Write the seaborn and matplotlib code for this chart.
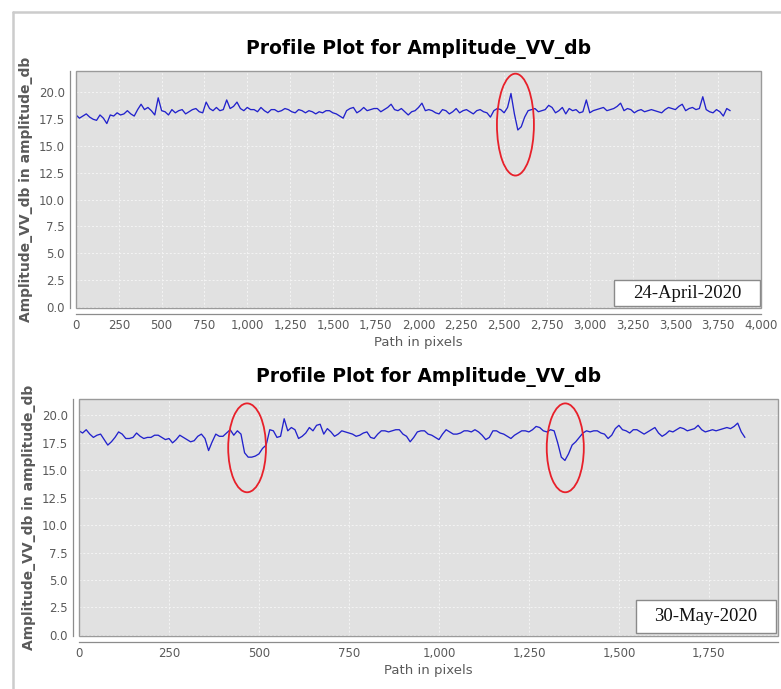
import matplotlib
matplotlib.use("Agg")
import numpy as np
import pandas as pd
import matplotlib.pyplot as plt
import seaborn as sns
from matplotlib.patches import Ellipse, Rectangle
from matplotlib.lines import Line2D
from matplotlib.ticker import FuncFormatter, MultipleLocator

# 24-April-2020 profile, one value every 20 pixels along the path
april_step = 20
april_db = [
    17.9, 17.6, 17.8, 18.0, 17.7, 17.5, 17.4, 17.9, 17.6, 17.1,
    17.9, 17.8, 18.1, 17.9, 18.0, 18.3, 18.0, 17.8, 18.4, 18.9,
    18.4, 18.6, 18.3, 17.9, 19.5, 18.3, 18.2, 17.9, 18.4, 18.1,
    18.3, 18.4, 18.0, 18.2, 18.4, 18.5, 18.2, 18.1, 19.1, 18.5,
    18.3, 18.6, 18.3, 18.4, 19.3, 18.5, 18.7, 19.1, 18.5, 18.3,
    18.6, 18.4, 18.4, 18.2, 18.6, 18.3, 18.1, 18.4, 18.4, 18.2,
    18.3, 18.5, 18.4, 18.2, 18.1, 18.4, 18.3, 18.1, 18.3, 18.2,
    18.0, 18.2, 18.1, 18.3, 18.3, 18.1, 18.0, 17.8, 17.6, 18.3,
    18.5, 18.6, 18.1, 18.3, 18.6, 18.3, 18.4, 18.5, 18.5, 18.2,
    18.4, 18.6, 18.9, 18.4, 18.3, 18.5, 18.2, 17.9, 18.2, 18.3,
    18.6, 19.0, 18.3, 18.4, 18.3, 18.1, 18.0, 18.4, 18.3, 18.0,
    18.2, 18.5, 18.1, 18.3, 18.4, 18.2, 18.0, 18.3, 18.4, 18.2,
    18.1, 17.7, 18.3, 18.5, 18.4, 18.1, 18.6, 19.9, 18.0, 16.5,
    16.8, 17.7, 18.3, 18.4, 18.5, 18.2, 18.3, 18.4, 18.8, 18.6,
    18.1, 18.3, 18.6, 18.0, 18.5, 18.3, 18.4, 18.1, 18.2, 19.3,
    18.1, 18.3, 18.4, 18.5, 18.6, 18.3, 18.4, 18.5, 18.7, 19.0,
    18.3, 18.5, 18.4, 18.1, 18.3, 18.4, 18.2, 18.3, 18.4, 18.3,
    18.2, 18.1, 18.4, 18.6, 18.5, 18.4, 18.7, 18.9, 18.3, 18.5,
    18.6, 18.4, 18.5, 19.6, 18.4, 18.2, 18.1, 18.4, 18.2, 17.8,
    18.5, 18.3,
]

# 30-May-2020 profile, one value every 10 pixels along the path
may_step = 10
may_db = [
    18.6, 18.4, 18.7, 18.3, 18.0, 18.2, 18.3, 17.8, 17.3, 17.6,
    18.0, 18.5, 18.3, 17.9, 17.9, 18.0, 18.4, 18.1, 17.9, 18.0,
    18.0, 18.2, 18.2, 18.0, 17.8, 17.9, 17.5, 17.8, 18.2, 18.0,
    17.8, 17.6, 17.7, 18.1, 18.3, 17.9, 16.8, 17.6, 18.3, 18.1,
    18.1, 18.4, 18.7, 18.2, 18.6, 18.3, 16.6, 16.2, 16.2, 16.3,
    16.5, 17.0, 17.3, 18.7, 18.6, 18.0, 18.1, 19.7, 18.6, 18.9,
    18.7, 17.9, 18.1, 18.4, 18.9, 18.6, 19.1, 19.2, 18.3, 18.8,
    18.5, 18.1, 18.3, 18.6, 18.5, 18.4, 18.3, 18.1, 18.2, 18.4,
    18.5, 18.0, 17.9, 18.3, 18.6, 18.6, 18.5, 18.6, 18.7, 18.7,
    18.3, 18.1, 17.6, 18.0, 18.5, 18.6, 18.6, 18.3, 18.2, 18.0,
    17.8, 18.3, 18.7, 18.5, 18.3, 18.3, 18.4, 18.6, 18.6, 18.5,
    18.7, 18.5, 18.2, 17.8, 18.0, 18.6, 18.6, 18.4, 18.3, 18.1,
    17.9, 18.2, 18.4, 18.6, 18.6, 18.5, 18.7, 19.0, 18.9, 18.6,
    18.5, 18.7, 18.6, 17.5, 16.2, 15.9, 16.5, 17.3, 17.6, 18.0,
    18.4, 18.6, 18.5, 18.6, 18.6, 18.4, 18.3, 17.9, 18.2, 18.8,
    19.1, 18.7, 18.6, 18.4, 18.7, 18.7, 18.5, 18.3, 18.5, 18.7,
    18.9, 18.4, 18.1, 18.3, 18.6, 18.5, 18.7, 18.9, 18.8, 18.6,
    18.7, 18.8, 19.1, 18.7, 18.5, 18.6, 18.7, 18.6, 18.7, 18.8,
    18.9, 18.8, 19.0, 19.3, 18.5, 18.0,
]

april_label = "24-April-2020"
may_label = "30-May-2020"
title = "Profile Plot for Amplitude_VV_db"
y_title = "Amplitude_VV_db in amplitude_db"
x_title = "Path in pixels"

# red rings around the dips: (centre x, centre y, width, height)
april_rings = [(2566, 17.0, 216, 9.5)]
may_rings = [(467, 17.05, 105, 8.1), (1351, 17.05, 103, 8.1)]

LINE = "#2222cc"
PLOT_BG = "#e1e1e1"
TXT = "#5a5a5a"

sns.set_style("white")
plt.rcParams["font.family"] = ["DejaVu Sans"]


def draw_profile(ax, values, step, xmax, ymax, rings, date, box):
    """one JFreeChart-looking profile plot"""
    df = pd.DataFrame({"path": np.arange(len(values)) * step, "db": values})
    ax.set_facecolor(PLOT_BG)
    sns.lineplot(data=df, x="path", y="db", ax=ax, color=LINE, linewidth=0.95,
                 estimator=None, zorder=3)
    ax.set_xlim(0, xmax)
    ax.set_ylim(-0.1, ymax)
    ax.xaxis.set_major_locator(MultipleLocator(250))
    ax.yaxis.set_major_locator(MultipleLocator(2.5))
    ax.xaxis.set_major_formatter(FuncFormatter(lambda v, p: f"{v:,.0f}"))
    ax.yaxis.set_major_formatter(FuncFormatter(lambda v, p: f"{v:.1f}"))
    ax.grid(True, color="#f4f4f4", linestyle=(0, (2, 2)), linewidth=0.7, zorder=1)
    ax.set_axisbelow(True)

    for s in ["top", "right"]:
        ax.spines[s].set_visible(False)
    for s in ["left", "bottom"]:
        ax.spines[s].set_position(("outward", 4))
        ax.spines[s].set_color("#8c8c8c")
        ax.spines[s].set_linewidth(0.9)
    ax.add_patch(Rectangle((0, 0), 1, 1, transform=ax.transAxes, fill=False,
                           ec="#9a9a9a", lw=1.0, clip_on=False, zorder=4))
    ax.tick_params(direction="out", length=2, width=0.8, color="#8c8c8c",
                   labelcolor=TXT, labelsize=8.5, pad=2)

    for cx, cy, w, h in rings:
        ax.add_patch(Ellipse((cx, cy), w, h, fill=False, ec="#e8202a", lw=1.3,
                             zorder=5))

    x0, y0, x1, y1 = box
    ax.add_patch(Rectangle((x0, y0), x1 - x0, y1 - y0, transform=ax.transAxes,
                           fc="white", ec="#8a8a8a", lw=1.0, zorder=6))
    ax.text((x0 + x1) / 2, (y0 + y1) / 2, date, transform=ax.transAxes,
            ha="center", va="center", fontsize=13.5, family="Liberation Serif",
            color="#111111", zorder=7)

    ax.set_title(title, fontsize=13.5, fontweight="bold", color="#000000", pad=12)
    ax.set_ylabel(y_title, fontsize=10, fontweight="bold", color=TXT, labelpad=4)
    ax.set_xlabel(x_title, fontsize=9.5, color=TXT, labelpad=3)


fig = plt.figure(figsize=(7.81, 6.89), dpi=100)
W, H = 781, 689

ax1 = fig.add_axes([76 / W, 1 - 308 / H, 685 / W, 237 / H])
draw_profile(ax1, april_db, april_step, 4000, 22.0, april_rings, april_label,
             (0.785, 0.008, 0.9985, 0.118))

ax2 = fig.add_axes([79 / W, 1 - 636 / H, 699 / W, 237 / H])
draw_profile(ax2, may_db, may_step, 1942, 21.5, may_rings, may_label,
             (0.797, 0.013, 0.997, 0.152))

# thin grey frame of the screenshot
fig.add_artist(Line2D([13 / W, 13 / W], [0, 1 - 12 / H], transform=fig.transFigure,
                      color="#cccccc", lw=1.8))
fig.add_artist(Line2D([13 / W, 1], [1 - 12 / H, 1 - 12 / H], transform=fig.transFigure,
                      color="#cccccc", lw=1.8))

fig.savefig("out.png", dpi=100, facecolor="white")
